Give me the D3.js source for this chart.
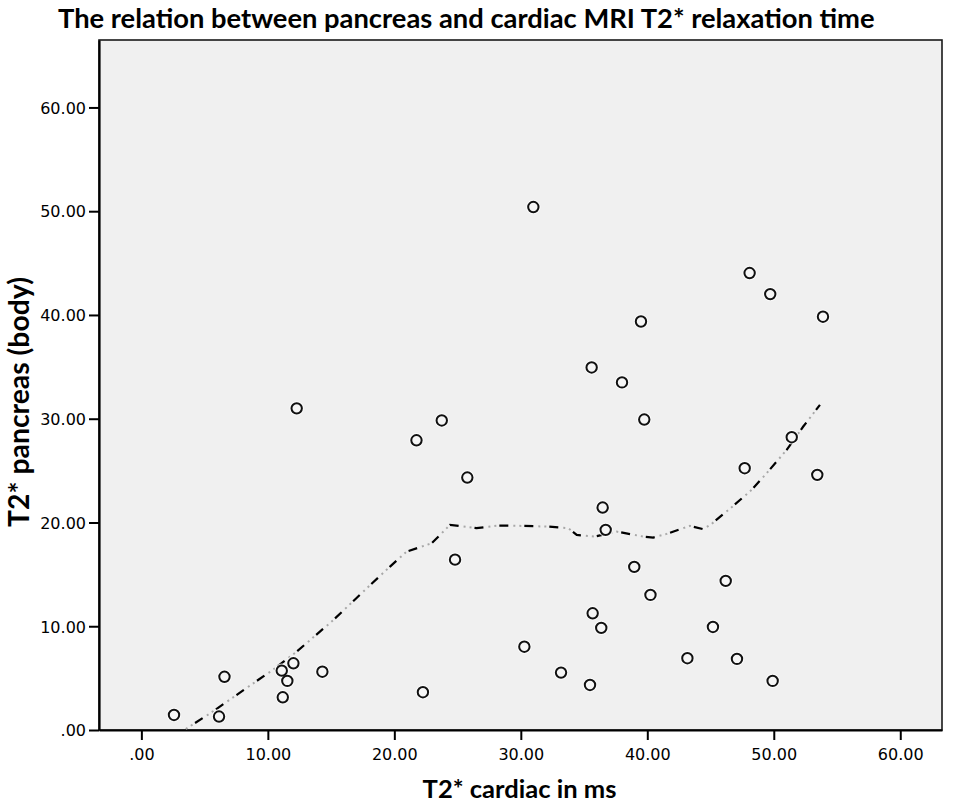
<!DOCTYPE html>
<html>
<head>
<meta charset="utf-8">
<script src="https://cdn.jsdelivr.net/npm/d3@7"></script>
<style>
  html, body { margin: 0; padding: 0; background: #ffffff; }
  svg { display: block; }
</style>
</head>
<body>
<svg id="chart" width="957" height="810"></svg>
<script>
// ---- data ----
const titleText = "The relation between pancreas and cardiac MRI T2* relaxation time";
const xAxisTitle = "T2* cardiac in ms";
const yAxisTitle = "T2* pancreas (body)";

const cardiacT2 = [2.58, 6.14, 6.57, 11.10, 12.02, 11.54, 11.18, 14.31, 12.28, 21.75,
                   23.75, 25.77, 24.80, 22.26, 30.99, 30.28, 33.18, 35.47, 35.60, 39.50,
                   39.76, 38.00, 36.47, 36.71, 38.97, 40.25, 35.68, 36.36, 43.17, 45.19,
                   46.20, 47.09, 49.91, 47.70, 48.09, 49.72, 53.89, 51.42, 53.44];
const pancreasT2 = [1.45, 1.30, 5.13, 5.72, 6.43, 4.73, 3.15, 5.62, 31.00, 27.92,
                    29.83, 24.33, 16.42, 3.64, 50.40, 8.03, 5.53, 4.34, 34.94, 39.37,
                    29.92, 33.50, 21.44, 19.29, 15.72, 13.02, 11.25, 9.84, 6.92, 9.93,
                    14.37, 6.85, 4.73, 25.23, 44.04, 42.01, 39.83, 28.22, 24.59];

// fitted (loess) line
const fitX = [2.58, 3.59, 5.43, 8.85, 10.40, 12.28, 15.18, 17.82, 19.66, 20.98, 22.96, 24.40,
              26.50, 28.22, 30.20, 32.17, 33.75, 34.42, 35.87, 37.58, 39.69, 40.47, 41.53,
              43.37, 44.43, 45.09, 46.67, 48.25, 49.44, 51.02, 52.33, 53.65];
const fitY = [-0.63, 0.16, 1.60, 4.50, 5.80, 7.55, 10.60, 13.66, 15.75, 17.20, 18.00, 19.77,
              19.45, 19.70, 19.67, 19.60, 19.45, 18.80, 18.64, 19.12, 18.64, 18.55, 18.90,
              19.67, 19.35, 19.87, 21.47, 23.14, 24.75, 27.00, 29.25, 31.34];

const xTickValues = [0, 10, 20, 30, 40, 50, 60];
const xTickLabels = [".00", "10.00", "20.00", "30.00", "40.00", "50.00", "60.00"];
const yTickValues = [0, 10, 20, 30, 40, 50, 60];
const yTickLabels = [".00", "10.00", "20.00", "30.00", "40.00", "50.00", "60.00"];

const xDomain = [-3.35, 63.3];
const yDomain = [0, 66.5];

// ---- layout ----
const svg = d3.select("#chart");
const plot = { left: 99, top: 40, right: 942, bottom: 730 };

const x = d3.scaleLinear().domain(xDomain).range([plot.left, plot.right]);
const y = d3.scaleLinear().domain(yDomain).range([plot.bottom, plot.top]);

const tickFont = "DejaVu Sans, sans-serif";
const boldFont = "Lato, sans-serif";

// plot background
svg.append("rect")
  .attr("x", plot.left).attr("y", plot.top)
  .attr("width", plot.right - plot.left).attr("height", plot.bottom - plot.top)
  .attr("fill", "#f0f0f0")
  .attr("stroke", "#1a1a1a").attr("stroke-width", 1.6);

// clip for the fit line
svg.append("clipPath").attr("id", "plotClip")
  .append("rect")
  .attr("x", plot.left).attr("y", plot.top)
  .attr("width", plot.right - plot.left).attr("height", plot.bottom - plot.top);

// axes
const xAxis = d3.axisBottom(x)
  .tickValues(xTickValues)
  .tickFormat((d, i) => xTickLabels[i])
  .tickSize(10).tickSizeOuter(0).tickPadding(6);
const yAxis = d3.axisLeft(y)
  .tickValues(yTickValues)
  .tickFormat((d, i) => yTickLabels[i])
  .tickSize(10).tickSizeOuter(0).tickPadding(3);

const gx = svg.append("g").attr("transform", `translate(0,${plot.bottom})`).call(xAxis);
const gy = svg.append("g").attr("transform", `translate(${plot.left},0)`).call(yAxis);

[gx, gy].forEach(g => {
  g.attr("font-size", 16).attr("font-family", tickFont);
  g.select(".domain").attr("stroke", "#000").attr("stroke-width", 2.2);
  g.selectAll(".tick line").attr("stroke", "#000").attr("stroke-width", 2);
  g.selectAll(".tick text")
    .attr("fill", "#000")
    .attr("font-size", 16)
    .attr("font-family", tickFont);
});
gx.selectAll(".tick text").attr("dy", "0.85em");
gy.selectAll(".tick text").attr("dy", "0.36em");

// fit line: black dashes with grey dots in between
const fitData = fitX.map((v, i) => [v, fitY[i]]);
const line = d3.line().x(d => x(d[0])).y(d => y(d[1]));
const fitG = svg.append("g").attr("clip-path", "url(#plotClip)");
fitG.append("path")
  .datum(fitData)
  .attr("d", line)
  .attr("fill", "none")
  .attr("stroke", "#a8a8a8")
  .attr("stroke-width", 2)
  .attr("stroke-dasharray", "0,14,2,4,2,3");
fitG.append("path")
  .datum(fitData)
  .attr("d", line)
  .attr("fill", "none")
  .attr("stroke", "#000")
  .attr("stroke-width", 2.2)
  .attr("stroke-dasharray", "9,16");

// points
const pts = cardiacT2.map((v, i) => [v, pancreasT2[i]]);
svg.append("g").selectAll("circle.halo")
  .data(pts).join("circle")
  .attr("class", "halo")
  .attr("cx", d => x(d[0])).attr("cy", d => y(d[1]))
  .attr("r", 5.2)
  .attr("fill", "#ffffff")
  .attr("stroke", "#ffffff").attr("stroke-width", 4).attr("stroke-opacity", 0.8);
svg.append("g").selectAll("circle.pt")
  .data(pts).join("circle")
  .attr("class", "pt")
  .attr("cx", d => x(d[0])).attr("cy", d => y(d[1]))
  .attr("r", 5.2)
  .attr("fill", "#f6f6f6")
  .attr("stroke", "#111").attr("stroke-width", 2);

// helper to fit a text's length to a target width
function fitText(sel, target, startSize) {
  let size = startSize;
  sel.attr("font-size", size);
  const w = sel.node().getComputedTextLength();
  if (w > 0) {
    size = size * target / w;
    sel.attr("font-size", size);
  }
  return sel;
}

// title
const title = svg.append("text")
  .attr("x", 58).attr("y", 28)
  .attr("text-anchor", "start")
  .attr("fill", "#000")
  .attr("font-family", boldFont)
  .attr("font-weight", "bold")
  .text(titleText);
fitText(title, 817, 24);

// x axis title
const xt = svg.append("text")
  .attr("x", 519.5).attr("y", 798)
  .attr("text-anchor", "middle")
  .attr("fill", "#000")
  .attr("font-family", boldFont)
  .attr("font-weight", "bold")
  .text(xAxisTitle);
fitText(xt, 194, 21);

// y axis title
const yt = svg.append("text")
  .attr("transform", "translate(29,402) rotate(-90)")
  .attr("text-anchor", "middle")
  .attr("fill", "#000")
  .attr("font-family", boldFont)
  .attr("font-weight", "bold")
  .text(yAxisTitle);
fitText(yt, 250, 21);
</script>
</body>
</html>
